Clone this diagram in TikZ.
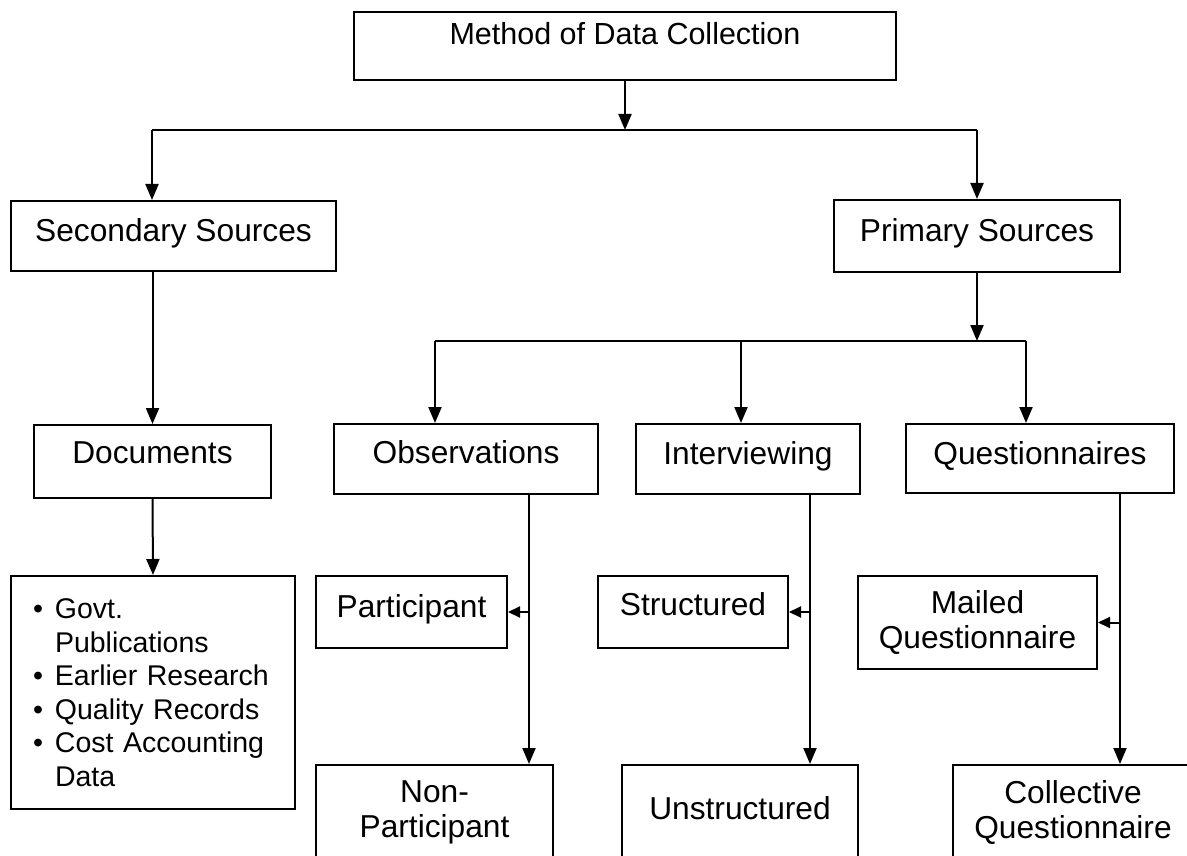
\documentclass[tikz,border=0pt]{standalone}
\usepackage{fontspec}
\setmainfont{Liberation Sans}
\usetikzlibrary{arrows.meta}

% bullet item helpers for the documents list
\newcommand{\itm}{\makebox[22pt][l]{\textbullet}}
\newcommand{\cont}{\hspace*{22pt}}

\begin{document}
\begin{tikzpicture}[x=1pt,y=-1pt,
  box/.style={draw, line width=2pt, rectangle, inner sep=0pt, align=center,
    font=\fontsize{31.7pt}{35pt}\selectfont},
  onebox/.style={box, text height=23pt, text depth=#1},
  onebox/.default=12pt,
  arr/.style={line width=2pt, -{Triangle[width=13pt,length=16pt]}},
  sidearr/.style={line width=2pt, -{Triangle[width=11pt,length=12pt]}},
  bus/.style={line width=2pt}]

\useasboundingbox (0,0) rectangle (1187,856);
\clip (0,0) rectangle (1187,856);
\fill[white] (0,0) rectangle (1187,856);

% top level
\node[onebox=26pt, minimum width=542pt, minimum height=68pt,
      font=\fontsize{30.5pt}{35pt}\selectfont] (title) at (625,46) {Method of Data Collection};

% second level
\node[onebox=13pt, minimum width=325pt, minimum height=70pt] (sec) at (173.5,236) {Secondary Sources};
\node[onebox=12pt, minimum width=286pt, minimum height=72pt] (prim) at (977,236) {Primary Sources};

% third level
\node[onebox=20pt, minimum width=237pt, minimum height=73pt] (doc) at (152.5,461.5) {Documents};
\node[onebox=14pt, minimum width=264pt, minimum height=70pt] (obs) at (466,459) {Observations};
\node[onebox=12pt, minimum width=224pt, minimum height=70pt] (int) at (748,459) {Interviewing};
\node[onebox=12pt, minimum width=268pt, minimum height=69pt] (quest) at (1040,458.5) {Questionnaires};

% documents list
\node[draw, line width=2pt, rectangle, inner xsep=22pt, inner ysep=0pt,
      text width=240pt, align=left, minimum width=284pt, minimum height=233pt,
      font=\fontsize{28.5pt}{33.5pt}\selectfont] (list) at (153,692.5)
  {\itm Govt.\\ \cont Publications\\ \itm Earlier Research\\ \itm Quality Records\\ \itm Cost Accounting\\ \cont Data};

% side branches
\node[onebox=12pt, minimum width=191pt, minimum height=72pt] (part) at (411.5,612) {Participant};
\node[onebox=16pt, minimum width=190pt, minimum height=72pt] (struct) at (693,612) {Structured};
\node[box, minimum width=239pt, minimum height=93pt] (mailed) at (977.5,622.5) {Mailed\\Questionnaire};

% bottom row
\node[box, minimum width=237pt, minimum height=95pt] (npart) at (434.5,812.5) {Non-\\Participant};
\node[onebox=9pt, minimum width=236pt, minimum height=95pt] (unstruct) at (740,812.5) {Unstructured};
\node[box, minimum width=240pt, minimum height=95pt] (coll) at (1073,812.5) {Collective\\Questionnaire};

% bus lines and trunk positions
\coordinate (b1L) at (152,130);
\coordinate (b1R) at (977,130);
\coordinate (b2L) at (435,341);
\coordinate (b2C) at (741,341);
\coordinate (b2R) at (1026,341);
\coordinate (ov) at (529,0);
\coordinate (iv) at (810,0);
\coordinate (qv) at (1120,0);

% title to sources
\draw[arr] (title.south) -- (title.south |- b1L);
\draw[bus] (b1L) -- (b1R);
\draw[arr] (b1L) -- (b1L |- sec.north);
\draw[arr] (b1R) -- (prim.north);

% secondary branch
\draw[arr] (sec.south -| doc.north) -- (doc.north);
\draw[arr] (doc.south) -- (list.north);

% primary branch
\draw[arr] (prim.south) -- (prim.south |- b2R);
\draw[bus] (b2L) -- (b2R);
\draw[arr] (b2L) -- (b2L |- obs.north);
\draw[arr] (b2C) -- (b2C |- int.north);
\draw[arr] (b2R) -- (b2R |- quest.north);

% observations
\draw[arr] (obs.south -| ov) -- (npart.north -| ov);
\draw[sidearr] (ov |- part.east) -- (part.east);

% interviewing
\draw[arr] (int.south -| iv) -- (unstruct.north -| iv);
\draw[sidearr] (iv |- struct.east) -- (struct.east);

% questionnaires
\draw[arr] (quest.south -| qv) -- (coll.north -| qv);
\draw[sidearr] (qv |- mailed.east) -- (mailed.east);

\end{tikzpicture}
\end{document}
